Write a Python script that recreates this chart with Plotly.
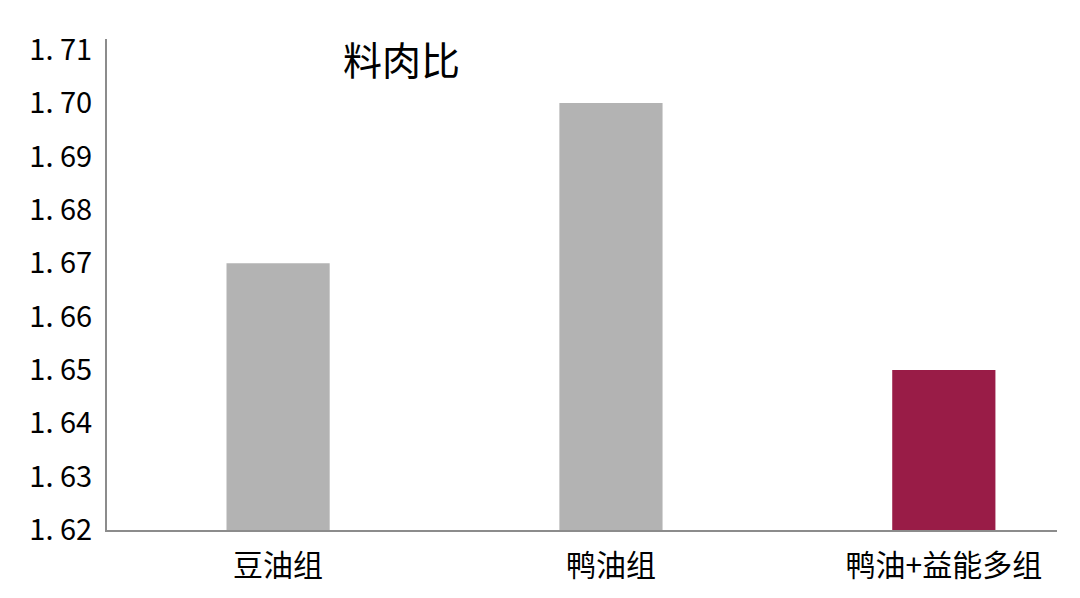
import plotly.graph_objects as go

# dados
grupos = ["豆油组", "鸭油组", "鸭油+益能多组"]
valores = [1.67, 1.70, 1.65]
cores = ["#b3b3b3", "#b3b3b3", "#991c47"]
base_y = 1.62
y_ticks = [1.62, 1.63, 1.64, 1.65, 1.66, 1.67, 1.68, 1.69, 1.70, 1.71]
y_ticktext = ["1. 62", "1. 63", "1. 64", "1. 65", "1. 66", "1. 67", "1. 68", "1. 69", "1. 70", "1. 71"]

fonte = "Noto Sans CJK SC"

fig = go.Figure()
# barras começam em 1.62
fig.add_trace(go.Bar(
    x=list(range(len(grupos))),
    y=[v - base_y for v in valores],
    base=base_y,
    marker=dict(color=cores, line=dict(width=0)),
    width=0.31,
))

fig.add_annotation(
    text="料肉比", xref="paper", yref="paper",
    x=0.3105, y=0.961, xanchor="center", yanchor="middle",
    showarrow=False,
    font=dict(family=fonte, size=39, color="black"),
)

# a página tem 8px de margem no body, por isso as margens compensam
fig.update_layout(
    width=1080, height=598,
    margin=dict(l=99, r=31, t=31, b=76),
    plot_bgcolor="white", paper_bgcolor="white",
    showlegend=False,
    font=dict(family=fonte, color="black"),
    xaxis=dict(
        range=[-0.514, 2.34],
        tickvals=list(range(len(grupos))), ticktext=grupos,
        showline=True, linecolor="#8c8c8c", linewidth=2,
        showgrid=False, zeroline=False, ticks="",
        tickfont=dict(size=30, family=fonte),
        ticklabelstandoff=8,
    ),
    yaxis=dict(
        range=[1.62, 1.712],
        tickvals=y_ticks, ticktext=y_ticktext,
        showline=True, linecolor="#8c8c8c", linewidth=2,
        showgrid=False, zeroline=False, ticks="",
        tickfont=dict(size=29, family=fonte),
        ticklabelstandoff=7,
    ),
)

fig.write_html("out.html")
